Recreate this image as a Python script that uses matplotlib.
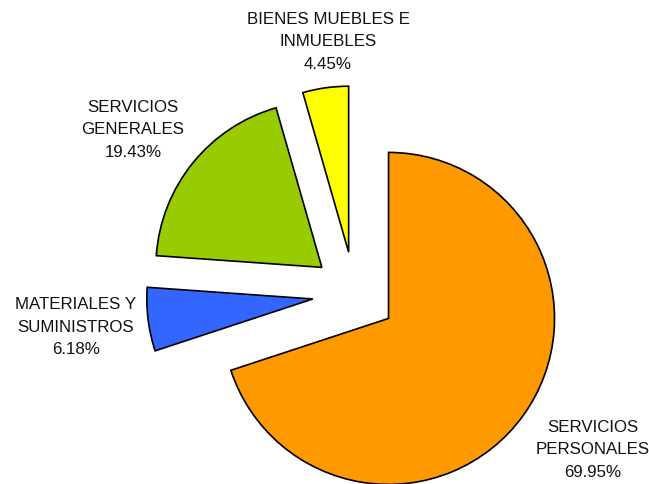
import matplotlib.pyplot as plt

plt.rcParams['font.family'] = ['Liberation Sans', 'DejaVu Sans']

# Data
categories = ['SERVICIOS\nPERSONALES', 'MATERIALES Y\nSUMINISTROS',
              'SERVICIOS\nGENERALES', 'BIENES MUEBLES E\nINMUEBLES']
shares = [69.95, 6.18, 19.43, 4.45]
colors = ['#FF9900', '#3366FF', '#99CC00', '#FFFF00']

# layout in pixels (figure is 649x485 at 100 dpi)
W, H = 649, 485
R = 166.0
cx, cy = 354.5, 294.8
explode_px = 42.0
label_pos = [(593, 450), (76, 327), (133, 130), (328, 42)]


def to_data(px, py):
    return (px - cx) / R, (cy - py) / R


fig = plt.figure(figsize=(W / 100, H / 100), dpi=100)
ax = fig.add_axes([0, 0, 1, 1])

ax.pie(shares, colors=colors, startangle=90, counterclock=False,
       explode=[explode_px / R] * len(shares), radius=1.0,
       wedgeprops={'edgecolor': 'black', 'linewidth': 1.2})

for cat, val, (px, py) in zip(categories, shares, label_pos):
    x, y = to_data(px, py)
    ax.text(x, y, f'{cat}\n{val:.2f}%', ha='center', va='center',
            fontsize=12.2, linespacing=1.6, color='#111111')

x0, y0 = to_data(0, H)
x1, y1 = to_data(W, 0)
ax.set_xlim(x0, x1)
ax.set_ylim(y0, y1)
ax.set_aspect('equal')
ax.axis('off')

plt.savefig('out.png', dpi=100)
